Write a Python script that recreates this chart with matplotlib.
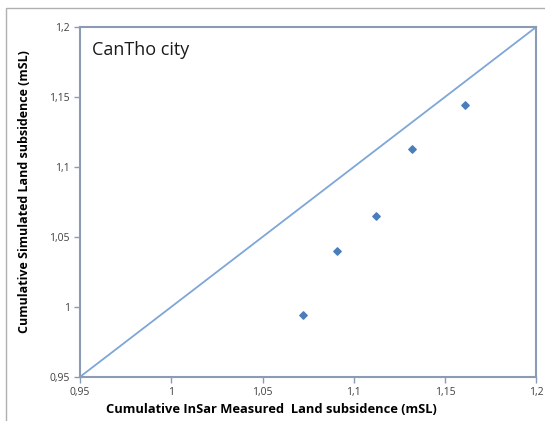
import matplotlib
matplotlib.use("Agg")
import matplotlib.pyplot as plt
from matplotlib.patches import Rectangle
from matplotlib.ticker import FuncFormatter

# measured vs simulated cumulative subsidence
insar_measured = [1.072, 1.091, 1.112, 1.132, 1.161]
simulated = [0.994, 1.040, 1.065, 1.113, 1.144]
ref_line = [0.95, 1.2]
ticks = [0.95, 1.0, 1.05, 1.1, 1.15, 1.2]

plt.rcParams['font.family'] = ['Open Sans', 'DejaVu Sans']

fig = plt.figure(figsize=(5.45, 4.21), dpi=100)
ax = fig.add_axes([0.147, 0.105, 0.837, 0.831])

# outer chart frame (right edge runs off the image)
fig.patches.append(Rectangle((0.011, -0.05), 1.2, 1.031, transform=fig.transFigure,
                             fill=False, edgecolor='#b0b0b0', linewidth=1))

ax.plot(ref_line, ref_line, color='#7ea6d6', linewidth=1.3)
ax.scatter(insar_measured, simulated, marker='D', s=14, color='#4a7ebb', zorder=3)

ax.set_xlim(0.95, 1.2)
ax.set_ylim(0.95, 1.2)
ax.set_xticks(ticks)
ax.set_yticks(ticks)

fmt = FuncFormatter(lambda v, p: ('%g' % round(v, 2)).replace('.', ','))
ax.xaxis.set_major_formatter(fmt)
ax.yaxis.set_major_formatter(fmt)
ax.tick_params(labelsize=7.5, colors='#404040', length=4, width=1, direction='out')
ax.tick_params(axis='both', color='#8b9bb4')

for s in ax.spines.values():
    s.set_color('#8b9bb4')
    s.set_linewidth(1.5)

ax.set_xlabel('Cumulative InSar Measured  Land subsidence (mSL)', fontsize=9.3,
              fontweight='bold', labelpad=5)
ax.xaxis.set_label_coords(0.42, -0.075)
ax.set_ylabel('Cumulative Simulated Land subsidence (mSL)', fontsize=9,
              fontweight='bold')
ax.yaxis.set_label_coords(-0.107, 0.53)

ax.text(0.025, 0.96, 'CanTho city', transform=ax.transAxes, fontsize=13,
        ha='left', va='top', color='#1a1a1a')

fig.savefig('out.png', dpi=100)
